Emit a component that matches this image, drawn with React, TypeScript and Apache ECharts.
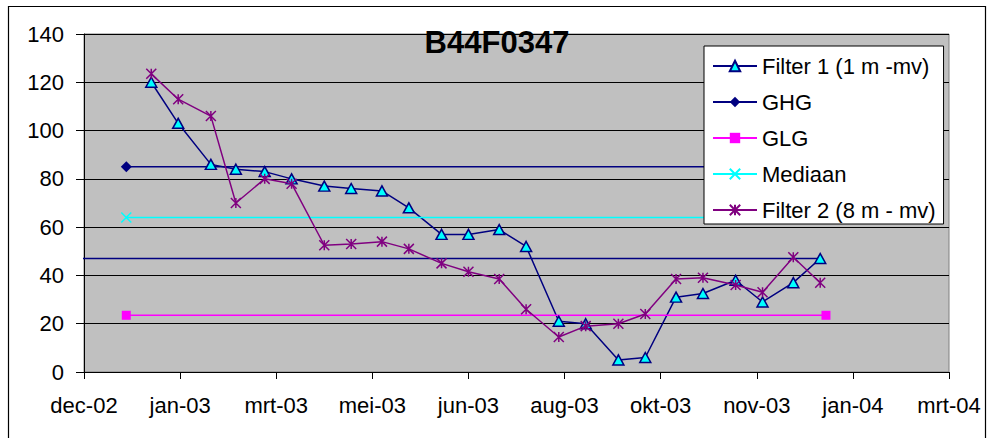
import React, { useEffect, useRef } from "react";
import * as echarts from "echarts";

// Meetdata peilbuis B44F0347 (grondwaterstand in cm t.o.v. maaiveld)
const meetdatums = [
  "2003-01-14", "2003-01-28", "2003-02-14", "2003-02-27", "2003-03-14", "2003-03-28",
  "2003-04-14", "2003-04-28", "2003-05-14", "2003-05-28", "2003-06-14", "2003-06-28",
  "2003-07-14", "2003-07-28", "2003-08-14", "2003-08-28", "2003-09-14", "2003-09-28",
  "2003-10-14", "2003-10-28", "2003-11-14", "2003-11-28", "2003-12-14", "2003-12-28",
];
const filter1 = [120, 103, 86, 84, 83, 80, 77, 76, 75, 68, 57, 57, 59, 52, 21, 20, 5, 6, 31, 32.5, 38, 29, 37, 47];
const filter2 = [123.5, 113, 106, 70, 80, 78, 52.5, 53, 54, 51, 45, 41.5, 38.5, 26, 14.5, 19, 20, 24, 38.5, 39, 36, 33, 47.5, 37];

// Kenmerkende standen over de meetperiode
const referentiePeriode = ["2003-01-01", "2003-12-31"];
const ghg = 85;
const glg = 23.5;
const mediaan = 64;

// As-instellingen (datums als seriële dagnummers)
const xMinDatum = "2002-12-10";
const xMaxDatum = "2004-03-04";
const xStapDagen = 50;
const yTicks = [0, 20, 40, 60, 80, 100, 120, 140];

const maanden = ["jan", "feb", "mrt", "apr", "mei", "jun", "jul", "aug", "sep", "okt", "nov", "dec"];
const DAG = 86400000;
const EPOCH = Date.UTC(1899, 11, 30);

function serieel(d: string): number {
  const [y, m, dd] = d.split("-").map(Number);
  return Math.round((Date.UTC(y, m - 1, dd) - EPOCH) / DAG);
}

function maandLabel(s: number): string {
  const d = new Date(EPOCH + s * DAG);
  return maanden[d.getUTCMonth()] + "-" + String(d.getUTCFullYear() % 100).padStart(2, "0");
}

const FONT = "'Liberation Sans', Arial, sans-serif";
const NAVY = "#000080";
const CYAAN = "#00FFFF";
const MAGENTA = "#FF00FF";
const PAARS = "#800080";
const ASTERISK = "path://M0,0L10,10M10,0L0,10M5,0L5,10";
const KRUIS = "path://M0,0L10,10M10,0L0,10";

export default function App() {
  const ref = useRef<HTMLDivElement>(null);

  useEffect(() => {
    if (!ref.current) return;
    const chart = echarts.init(ref.current, undefined, { renderer: "svg" });

    const xMin = serieel(xMinDatum);
    const xMax = serieel(xMaxDatum);
    const x = meetdatums.map(serieel);
    const periode = referentiePeriode.map(serieel);

    const f1Data: any[] = x.map((v, i) => [v, filter1[i]]);
    // laatste stand doorgetrokken naar het begin van de as
    f1Data.push({ value: [xMin - 3, filter1[filter1.length - 1]], symbol: "none" });

    const refLijn = (v: number) => periode.map((p) => [p, v]);

    chart.setOption({
      animation: false,
      backgroundColor: "#ffffff",
      textStyle: { fontFamily: FONT },
      grid: {
        left: 84,
        right: 38,
        top: 34,
        bottom: 66,
        show: true,
        backgroundColor: "#C0C0C0",
        borderColor: "#808080",
        borderWidth: 1,
      },
      xAxis: {
        type: "value",
        min: xMin,
        max: xMax,
        interval: xStapDagen,
        axisLine: { show: true, onZero: false, lineStyle: { color: "#000", width: 1 } },
        axisTick: { show: true, length: 7, lineStyle: { color: "#000" } },
        splitLine: { show: false },
        axisLabel: {
          margin: 22,
          fontSize: 22,
          color: "#000",
          fontFamily: FONT,
          showMaxLabel: true,
          showMinLabel: true,
          formatter: (v: number) => maandLabel(v),
        },
      },
      yAxis: {
        type: "value",
        min: yTicks[0],
        max: yTicks[yTicks.length - 1],
        interval: yTicks[1] - yTicks[0],
        axisLine: { show: true, lineStyle: { color: "#000", width: 1 } },
        axisTick: { show: true, length: 8, lineStyle: { color: "#000" } },
        splitLine: { show: true, lineStyle: { color: "#000", width: 1 } },
        axisLabel: { margin: 20, fontSize: 22, color: "#000", fontFamily: FONT },
      },
      legend: {
        orient: "vertical",
        left: 704,
        top: 46,
        backgroundColor: "#ffffff",
        borderColor: "#000",
        borderWidth: 1,
        padding: [9, 8, 3, 8],
        itemGap: 14,
        itemWidth: 44,
        itemHeight: 13,
        textStyle: { fontSize: 22, color: "#000", fontFamily: FONT },
        data: ["Filter 1 (1 m -mv)", "GHG", "GLG", "Mediaan", "Filter 2 (8 m - mv)"],
      },
      graphic: [
        {
          type: "rect",
          z: 100,
          silent: true,
          shape: { x: 8.5, y: 6.5, width: 977, height: 450 },
          style: { fill: "none", stroke: "#000", lineWidth: 1.2 },
        },
        {
          type: "text",
          z: 100,
          x: 497,
          y: 42,
          style: {
            text: "B44F0347",
            fontSize: 31,
            fontWeight: "bold",
            fontFamily: FONT,
            fill: "#000",
            align: "center",
            verticalAlign: "middle",
          },
        },
      ],
      series: [
        {
          name: "Filter 1 (1 m -mv)",
          type: "line",
          data: f1Data,
          symbol: "triangle",
          symbolSize: [11, 10],
          lineStyle: { color: NAVY, width: 1.5 },
          itemStyle: { color: CYAAN, borderColor: NAVY, borderWidth: 1.5 },
          z: 2,
        },
        {
          name: "GHG",
          type: "line",
          data: refLijn(ghg),
          symbol: "diamond",
          symbolSize: 11,
          lineStyle: { color: NAVY, width: 1.5 },
          itemStyle: { color: NAVY, borderColor: NAVY, borderWidth: 0 },
          z: 2,
        },
        {
          name: "GLG",
          type: "line",
          data: refLijn(glg),
          symbol: "rect",
          symbolSize: 9,
          lineStyle: { color: MAGENTA, width: 1.5 },
          itemStyle: { color: MAGENTA, borderColor: MAGENTA, borderWidth: 0 },
          z: 2,
        },
        {
          name: "Mediaan",
          type: "line",
          data: refLijn(mediaan),
          symbol: KRUIS,
          symbolSize: 10,
          lineStyle: { color: CYAAN, width: 1.5 },
          itemStyle: { color: CYAAN, borderColor: CYAAN, borderWidth: 1.5 },
          z: 2,
        },
        {
          name: "Filter 2 (8 m - mv)",
          type: "line",
          data: x.map((v, i) => [v, filter2[i]]),
          symbol: ASTERISK,
          symbolSize: 10,
          lineStyle: { color: PAARS, width: 1.5 },
          itemStyle: { color: PAARS, borderColor: PAARS, borderWidth: 1.5 },
          z: 3,
        },
      ],
    });

    return () => chart.dispose();
  }, []);

  return (
    <div
      ref={ref}
      style={{ position: "absolute", left: 0, top: 0, width: 987, height: 438, background: "#fff" }}
    />
  );
}
